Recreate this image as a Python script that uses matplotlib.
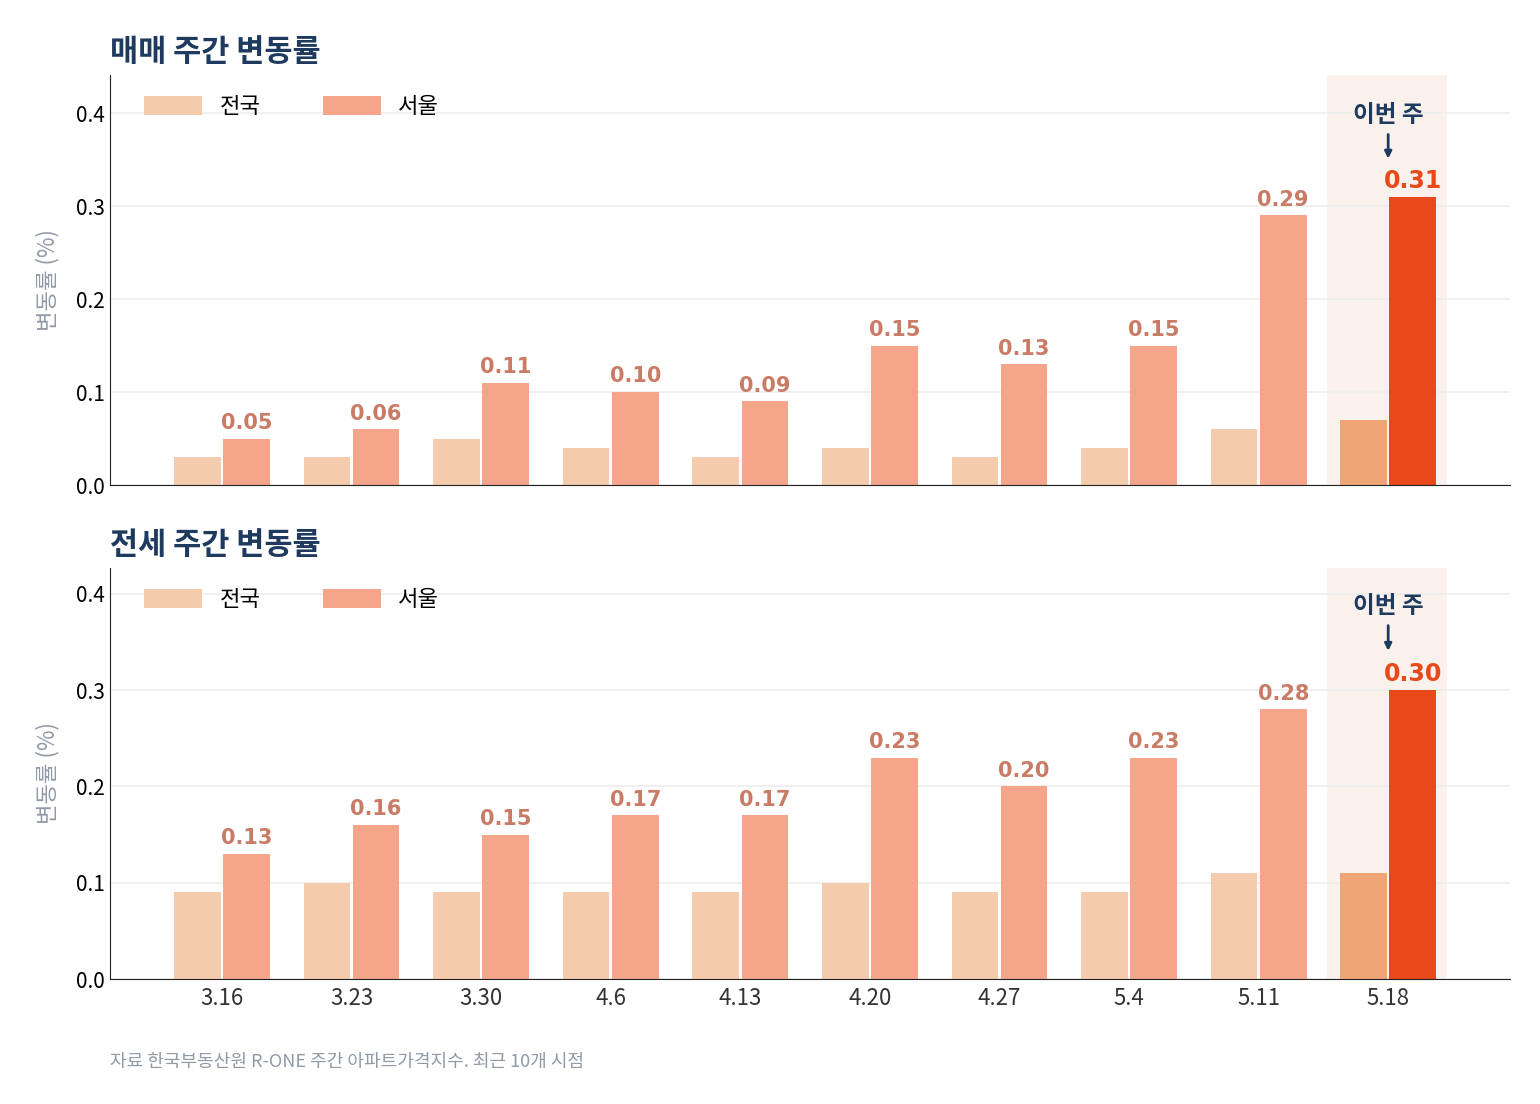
import matplotlib
matplotlib.use("Agg")
import matplotlib.pyplot as plt
import numpy as np

plt.rcParams['font.family'] = ['Noto Sans CJK KR', 'DejaVu Sans']

weeks = ["3.16","3.23","3.30","4.6","4.13","4.20","4.27","5.4","5.11","5.18"]
sale_nat = [0.03,0.03,0.05,0.04,0.03,0.04,0.03,0.04,0.06,0.07]
sale_seoul = [0.05,0.06,0.11,0.10,0.09,0.15,0.13,0.15,0.29,0.31]
rent_nat = [0.09,0.10,0.09,0.09,0.09,0.10,0.09,0.09,0.11,0.11]
rent_seoul = [0.13,0.16,0.15,0.17,0.17,0.23,0.20,0.23,0.28,0.30]

NAVY = "#1f3a5f"
C_NAT, C_SEO = "#f5cbad", "#f4a58a"
H_NAT, H_SEO = "#f0a577", "#e8481a"
LBL = "#c97b65"

fig = plt.figure(figsize=(15.4, 11.04), dpi=100)
W, H = 1540, 1104
def ax_at(l, t, r, b):
    return fig.add_axes([l/W, 1-b/H, (r-l)/W, (b-t)/H])

axes = [ax_at(110, 75, 1510, 485), ax_at(110, 568, 1510, 979)]
data = [(sale_nat, sale_seoul, 0.441, "매매 주간 변동률"),
        (rent_nat, rent_seoul, 0.427, "전세 주간 변동률")]
x = np.arange(len(weeks))
bw = 0.36
for i, (ax, (nat, seo, top, title)) in enumerate(zip(axes, data)):
    n = len(weeks)
    ax.axvspan(n-1.47, n-1+0.45, color="#faf1ec", zorder=0, lw=0)
    cn = [C_NAT]*(n-1) + [H_NAT]
    cs = [C_SEO]*(n-1) + [H_SEO]
    ax.bar(x-0.19, nat, bw, color=cn, zorder=2, label="전국")
    ax.bar(x+0.19, seo, bw, color=cs, zorder=2, label="서울")
    for j, v in enumerate(seo):
        if j == n-1:
            ax.text(x[j]+0.19, v+0.004, f"{v:.2f}", ha="center", va="bottom",
                    color=H_SEO, fontsize=17, fontweight="bold", family="DejaVu Sans")
        else:
            ax.text(x[j]+0.19, v+0.006, f"{v:.2f}", ha="center", va="bottom",
                    color=LBL, fontsize=15, fontweight="bold", family="DejaVu Sans")
    ax.annotate("", xy=(x[-1], seo[-1]+0.038), xytext=(x[-1], seo[-1]+0.07),
                arrowprops=dict(arrowstyle="-|>", color=NAVY, lw=2))
    ax.text(x[-1], seo[-1]+0.075, "이번 주", ha="center", va="bottom",
            color=NAVY, fontsize=17, fontweight="bold")
    ax.set_xlim(-0.864, 9.94)
    ax.set_ylim(0, top)
    ax.set_yticks([0, 0.1, 0.2, 0.3, 0.4])
    ax.set_yticklabels(["0.0","0.1","0.2","0.3","0.4"], fontsize=15)
    ax.yaxis.grid(True, color="#eeeeee", lw=1.2, zorder=0)
    ax.set_axisbelow(True)
    for s in ["top", "right"]:
        ax.spines[s].set_visible(False)
    ax.spines["left"].set_color("#222222")
    ax.spines["bottom"].set_color("#222222")
    ax.tick_params(axis="y", length=0)
    ax.set_xticks(x)
    if i == 1:
        ax.set_xticklabels(weeks, fontsize=16, color="#333333")
        ax.tick_params(axis="x", length=0, pad=6)
    else:
        ax.set_xticklabels([])
        ax.tick_params(axis="x", length=0)
    ax.set_ylabel("변동률 (%)", fontsize=16, color="#9099a6", labelpad=12)
    ax.set_title(title, loc="left", fontsize=22, fontweight="bold", color=NAVY, pad=10, x=0)
    ax.legend(loc="upper left", frameon=False, ncol=2, fontsize=16, handlelength=2.6,
              handleheight=0.9, columnspacing=2.8, bbox_to_anchor=(0.01, 1.0))

fig.text(110/W, 1-1062/H, "자료 한국부동산원 R-ONE 주간 아파트가격지수. 최근 10개 시점",
         fontsize=13, color="#9099a6", va="center")
fig.savefig("out.png", dpi=100, facecolor="white")
